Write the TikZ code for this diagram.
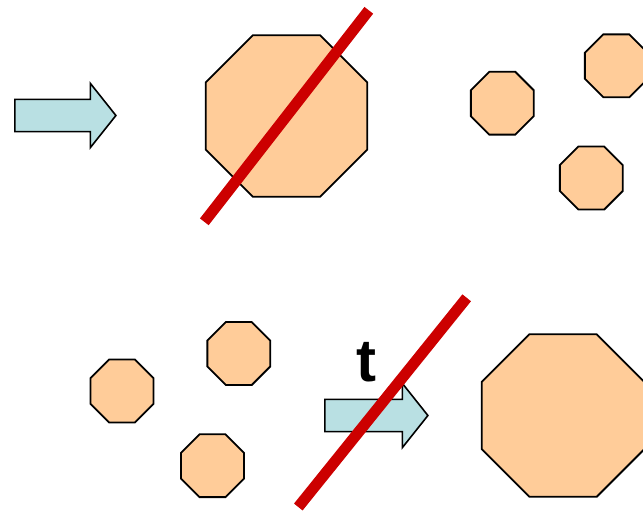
\documentclass[tikz,border=0pt]{standalone}
\usepackage{fontspec}
\setsansfont{Liberation Sans}
\usetikzlibrary{shapes.geometric,shapes.arrows}
\definecolor{peach}{RGB}{255,204,153}
\definecolor{paleblue}{RGB}{185,224,227}
\definecolor{cutred}{RGB}{204,0,0}

\begin{document}
\begin{tikzpicture}[x=1pt,y=-1pt,
  oct/.style={regular polygon, regular polygon sides=8, draw=black, fill=peach,
              line width=1.8pt, inner sep=0pt, minimum size=#1},
  blk/.style={single arrow, draw=black, fill=paleblue, line width=1.6pt,
              inner xsep=0pt, inner ysep=15.3pt, single arrow head extend=16pt,
              single arrow tip angle=103, minimum height=#1, anchor=tail},
  cut/.style={cutred, line width=11pt}
]
\useasboundingbox (0,0) rectangle (643,512);

% before: one big drop, split into three
\node[blk=101]   (arrL) at (14.1,115.5) {};
\node[oct=175]   (bigA) at (286.5,116) {};
\draw[cut] (204.3,221.8) -- (368.8,10.3);
\node[oct=68]    (sA)   at (502.3,103.2) {};
\node[oct=68]    (sB)   at (616.3,65.8) {};
\node[oct=68]    (sC)   at (591.3,178) {};

% after: three small drops merge in time t
\node[oct=68]    (sD)   at (122,391) {};
\node[oct=68]    (sE)   at (238.8,353.5) {};
\node[oct=68]    (sF)   at (212.5,465.7) {};
\node[blk=103]   (arrR) at (324.1,415.5) {};
\node[font=\sffamily\bfseries\fontsize{60}{60}\selectfont, anchor=base]
                 (tlab) at (366,381) {t};
\draw[cut] (298.3,507) -- (466.7,297.8);
\node[oct=176]   (bigB) at (563,415.5) {};
\end{tikzpicture}
\end{document}
